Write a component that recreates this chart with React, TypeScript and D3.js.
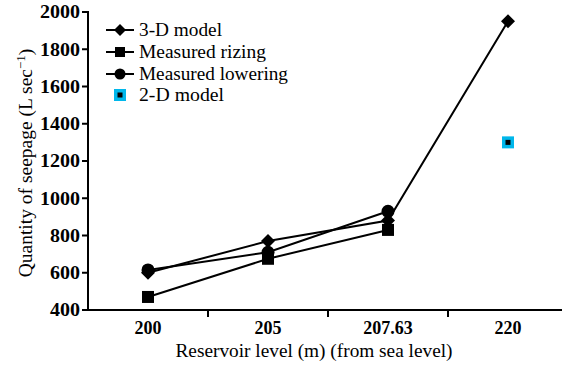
import React from "react";
import * as d3 from "d3";

const categories = ["200", "205", "207.63", "220"];
const model3D = [600, 770, 880, 1950];
const measuredRizing = [470, 675, 830];
const measuredLowering = [615, 710, 930];
const model2D = [{ cat: "220", value: 1300 }];
const yTicks = [400, 600, 800, 1000, 1200, 1400, 1600, 1800, 2000];

const W = 562, H = 366;
const left = 88, top = 12, bottom = 310;
const font = "Liberation Serif, DejaVu Serif, serif";

export default function App() {
  const x = d3.scaleBand<string>().domain(categories).range([left, left + 480]);
  const y = d3.scaleLinear().domain([400, 2000]).range([bottom, top]);
  const cx = (c: string) => (x(c) as number) + x.bandwidth() / 2;
  const line = d3.line<[string, number]>().x((d) => cx(d[0])).y((d) => y(d[1]));

  const diamond = (px: number, py: number, s = 7, key?: any) => (
    <path key={key} d={`M${px},${py - s}L${px + s},${py}L${px},${py + s}L${px - s},${py}Z`} fill="#000" />
  );
  const square = (px: number, py: number, s = 6, key?: any) => (
    <rect key={key} x={px - s} y={py - s} width={2 * s} height={2 * s} fill="#000" />
  );
  const circle = (px: number, py: number, r = 6.5, key?: any) => (
    <circle key={key} cx={px} cy={py} r={r} fill="#000" />
  );

  const s3 = categories.map((c, i) => [c, model3D[i]] as [string, number]);
  const sR = measuredRizing.map((v, i) => [categories[i], v] as [string, number]);
  const sL = measuredLowering.map((v, i) => [categories[i], v] as [string, number]);

  const legend = [
    { label: "3-D model", m: diamond, s: 6, w: 83 },
    { label: "Measured rizing", m: square, s: 5, w: 127 },
    { label: "Measured lowering", m: circle, s: 5.5, w: 149 },
  ];

  const txt = { fontFamily: font } as React.CSSProperties;

  return (
    <svg width={W} height={H} style={{ position: "absolute", left: 0, top: 0, background: "#fff" }}>
      {/* y axis */}
      <line x1={left} x2={left} y1={top - 1} y2={bottom} stroke="#000" strokeWidth={2} />
      {yTicks.map((t) => (
        <g key={t}>
          <line x1={left - 6} x2={left} y1={y(t)} y2={y(t)} stroke="#000" strokeWidth={2} />
          <text x={left - 8} y={y(t)} dy="0.35em" textAnchor="end" style={txt} fontSize={18} fontWeight="bold" textLength={String(t).length * 10} lengthAdjust="spacingAndGlyphs">
            {t}
          </text>
        </g>
      ))}
      {/* x axis */}
      <line x1={left - 6} x2={W} y1={bottom} y2={bottom} stroke="#000" strokeWidth={2} />
      {categories.slice(1).map((c) => (
        <line key={c} x1={x(c)} x2={x(c)} y1={bottom} y2={bottom + 7} stroke="#000" strokeWidth={2} />
      ))}
      {categories.map((c) => (
        <text key={c} x={cx(c)} y={334} textAnchor="middle" style={txt} fontSize={18} fontWeight="bold">
          {c}
        </text>
      ))}
      <text x={314} y={357} textAnchor="middle" style={txt} fontSize={18} textLength={277} lengthAdjust="spacingAndGlyphs">
        Reservoir level (m) (from sea level)
      </text>
      <text transform={`translate(32,${163}) rotate(-90)`} textAnchor="middle" style={txt} fontSize={19.5}>
        Quantity of seepage (L sec<tspan dy={-7} fontSize={13}>−1</tspan><tspan dy={7}>)</tspan>
      </text>

      {/* series */}
      <path d={line(sR) || ""} fill="none" stroke="#000" strokeWidth={2} />
      <path d={line(sL) || ""} fill="none" stroke="#000" strokeWidth={2} />
      <path d={line(s3) || ""} fill="none" stroke="#000" strokeWidth={2} />
      {sR.map((d, i) => square(cx(d[0]), y(d[1]), 6, "r" + i))}
      {sL.map((d, i) => circle(cx(d[0]), y(d[1]), 6.5, "l" + i))}
      {s3.map((d, i) => diamond(cx(d[0]), y(d[1]), 7, "d" + i))}
      {model2D.map((d, i) => (
        <g key={"m2" + i}>
          <rect x={cx(d.cat) - 6} y={y(d.value) - 6} width={12} height={12} fill="#00b7eb" />
          <rect x={cx(d.cat) - 2.5} y={y(d.value) - 2.5} width={5} height={5} fill="#000" />
        </g>
      ))}

      {/* legend */}
      {legend.map((l, i) => (
        <g key={l.label}>
          <line x1={106} x2={134} y1={30 + i * 22} y2={30 + i * 22} stroke="#000" strokeWidth={2} />
          {l.m(120, 30 + i * 22, l.s, "lm" + i)}
          <text x={139} y={30 + i * 22} dy="0.35em" style={txt} fontSize={18} textLength={l.w} lengthAdjust="spacingAndGlyphs">
            {l.label}
          </text>
        </g>
      ))}
      <rect x={114} y={89} width={12} height={12} fill="#00b7eb" />
      <rect x={117.5} y={92.5} width={5} height={5} fill="#000" />
      <text x={139} y={95} dy="0.35em" style={txt} fontSize={18} textLength={85} lengthAdjust="spacingAndGlyphs">
        2-D model
      </text>
    </svg>
  );
}
